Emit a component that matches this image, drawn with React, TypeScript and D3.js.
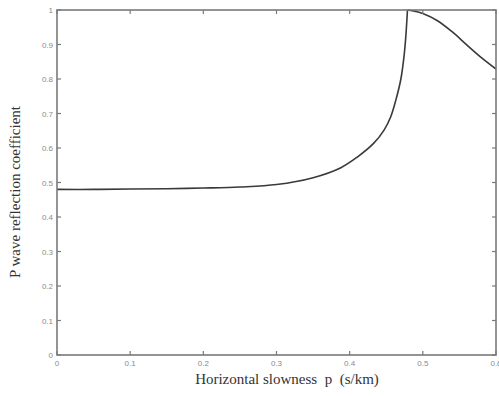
import React from "react";
import * as d3 from "d3";

// P-wave reflection coefficient vs horizontal slowness p (s/km),
// split at the critical slowness where |R| reaches 1.
const slownessPre = [
  0, 0.05, 0.1, 0.15, 0.2, 0.25, 0.3, 0.35, 0.388, 0.41, 0.433, 0.447, 0.456,
  0.463, 0.47, 0.4745, 0.4768, 0.479,
];
const reflectionPre = [
  0.48, 0.48, 0.481, 0.482, 0.484, 0.487, 0.494, 0.514, 0.543, 0.573, 0.614,
  0.652, 0.69, 0.738, 0.8, 0.87, 0.925, 1.0,
];
const slownessPost = [0.479, 0.49, 0.5, 0.52, 0.54, 0.56, 0.58, 0.6];
const reflectionPost = [1.0, 0.996, 0.99, 0.969, 0.937, 0.899, 0.862, 0.829];

const xTicks = [0, 0.1, 0.2, 0.3, 0.4, 0.5, 0.6];
const yTicks = [0, 0.1, 0.2, 0.3, 0.4, 0.5, 0.6, 0.7, 0.8, 0.9, 1];

const W = 499;
const H = 396;
const M = { left: 57, top: 10, right: 3, bottom: 41 };

export default function App() {
  const x = d3.scaleLinear().domain([0, 0.6]).range([M.left, W - M.right]);
  const y = d3.scaleLinear().domain([0, 1]).range([H - M.bottom, M.top]);
  const line = d3
    .line<[number, number]>()
    .x((d) => x(d[0]))
    .y((d) => y(d[1]))
    .curve(d3.curveCatmullRom.alpha(0.5));
  const pre = slownessPre.map((p, i) => [p, reflectionPre[i]] as [number, number]);
  const post = slownessPost.map((p, i) => [p, reflectionPost[i]] as [number, number]);

  const axisColor = "#7a7a7a";
  const tickLen = 4;
  const x0 = M.left;
  const x1 = W - M.right;
  const y0 = H - M.bottom;
  const y1 = M.top;

  return (
    <svg
      width={W}
      height={H}
      style={{ position: "absolute", left: 0, top: 0, background: "#fff" }}
    >
      <path d={line(pre) || ""} fill="none" stroke="#3a3a3a" strokeWidth={1.6} />
      <path d={line(post) || ""} fill="none" stroke="#3a3a3a" strokeWidth={1.6} />
      <rect
        x={x0}
        y={y1}
        width={x1 - x0}
        height={y0 - y1}
        fill="none"
        stroke={axisColor}
        strokeWidth={1.6}
      />
      {xTicks.map((t) => (
        <g key={"x" + t}>
          <line x1={x(t)} x2={x(t)} y1={y0} y2={y0 - tickLen} stroke={axisColor} strokeWidth={1.2} />
          <line x1={x(t)} x2={x(t)} y1={y1} y2={y1 + tickLen} stroke={axisColor} strokeWidth={1.2} />
          <text
            x={x(t)}
            y={y0 + 11}
            fontSize={8}
            fill="#8a8a8a"
            textAnchor="middle"
            fontFamily="Liberation Sans, Arial, sans-serif"
          >
            {String(t)}
          </text>
        </g>
      ))}
      {yTicks.map((t) => (
        <g key={"y" + t}>
          <line x1={x0} x2={x0 + tickLen} y1={y(t)} y2={y(t)} stroke={axisColor} strokeWidth={1.2} />
          <line x1={x1} x2={x1 - tickLen} y1={y(t)} y2={y(t)} stroke={axisColor} strokeWidth={1.2} />
          <text
            x={x0 - 4}
            y={y(t) + 3}
            fontSize={8}
            fill="#8a8a8a"
            textAnchor="end"
            fontFamily="Liberation Sans, Arial, sans-serif"
          >
            {String(t)}
          </text>
        </g>
      ))}
      <text
        x={287}
        y={384}
        fontSize={15}
        fill="#333"
        textAnchor="middle"
        fontFamily="Liberation Serif, Times New Roman, serif"
        style={{ whiteSpace: "pre" }}
      >
        {"Horizontal slowness  p  (s/km)"}
      </text>
      <text
        transform="translate(20,192) rotate(-90)"
        fontSize={15}
        fill="#333"
        textAnchor="middle"
        fontFamily="Liberation Serif, Times New Roman, serif"
      >
        P wave reflection coefficient
      </text>
    </svg>
  );
}
